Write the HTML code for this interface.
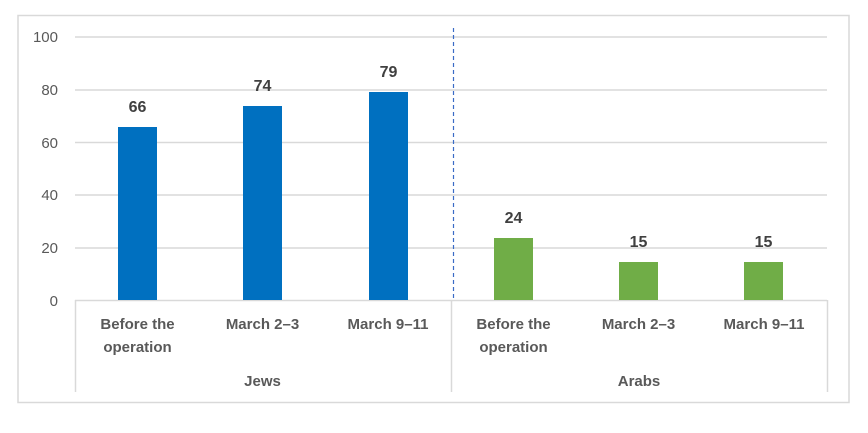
<!DOCTYPE html>
<html><head><style>
html,body{margin:0;padding:0;background:#fff;width:868px;height:433px;overflow:hidden}
svg text{font-family:"Liberation Sans",sans-serif}
</style></head><body>
<svg width="868" height="433" xmlns="http://www.w3.org/2000/svg">
<rect x="18" y="15.5" width="831" height="387" fill="#fff" stroke="#d9d9d9" stroke-width="1.5"/>
<g stroke="#d9d9d9" stroke-width="1.5">
<line x1="75" y1="37" x2="827" y2="37"/>
<line x1="75" y1="90" x2="827" y2="90"/>
<line x1="75" y1="142.5" x2="827" y2="142.5"/>
<line x1="75" y1="195" x2="827" y2="195"/>
<line x1="75" y1="248" x2="827" y2="248"/>
<line x1="75" y1="300.5" x2="827" y2="300.5"/>
<line x1="75.5" y1="300" x2="75.5" y2="392"/>
<line x1="451.5" y1="300" x2="451.5" y2="392"/>
<line x1="827.5" y1="300" x2="827.5" y2="392"/>
</g>
<g font-size="15" fill="#595959" text-anchor="end">
<text x="58" y="42">100</text><text x="58" y="95">80</text><text x="58" y="148">60</text>
<text x="58" y="200">40</text><text x="58" y="253">20</text><text x="58" y="306">0</text>
</g>
<g fill="#0070c0">
<rect x="118" y="127" width="39" height="173"/>
<rect x="243" y="106" width="39" height="194"/>
<rect x="369" y="92" width="39" height="208"/>
</g>
<g fill="#70ad47">
<rect x="494" y="238" width="39" height="62"/>
<rect x="619" y="262" width="39" height="38"/>
<rect x="744" y="262" width="39" height="38"/>
</g>
<line x1="453.5" y1="28" x2="453.5" y2="300" stroke="#3a6bc6" stroke-width="1.2" stroke-dasharray="4,3"/>
<g font-size="16" font-weight="bold" fill="#404040" text-anchor="middle">
<text x="137.5" y="112">66</text><text x="262.5" y="91">74</text><text x="388.5" y="77">79</text>
<text x="513.5" y="223">24</text><text x="638.5" y="247">15</text><text x="763.5" y="247">15</text>
</g>
<g font-size="15" font-weight="bold" fill="#595959" text-anchor="middle">
<text x="137.5" y="329">Before the</text><text x="137.5" y="352">operation</text>
<text x="262.5" y="329">March 2–3</text>
<text x="388" y="329">March 9–11</text>
<text x="513.5" y="329">Before the</text><text x="513.5" y="352">operation</text>
<text x="638.5" y="329">March 2–3</text>
<text x="764" y="329">March 9–11</text>
<text x="262.5" y="386">Jews</text>
<text x="639" y="386">Arabs</text>
</g>
</svg>
</body></html>
